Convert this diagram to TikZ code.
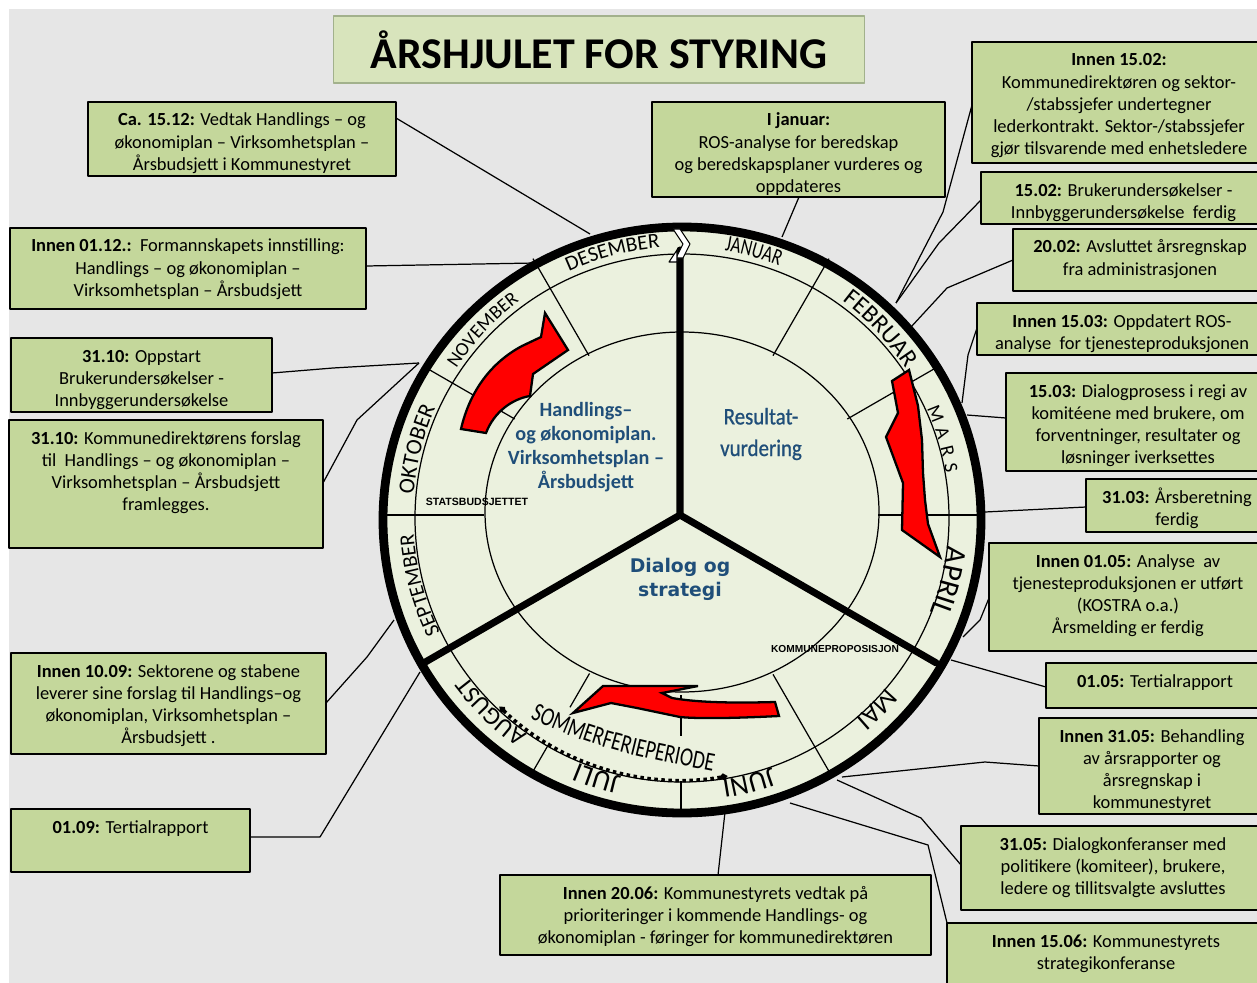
\documentclass[tikz,border=0pt]{standalone}
\usepackage{fontspec}
\setmainfont{Carlito}
\newfontfamily\narrowfont[FakeStretch=0.75]{Carlito}
\newfontfamily\resfont[FakeStretch=0.88,FakeBold=0.8]{Carlito}
\newfontfamily\dialogfont{DejaVu Sans}
\newfontfamily\heavyfont{Liberation Sans}
\usetikzlibrary{decorations.text,arrows.meta}
\definecolor{boxgreen}{HTML}{C4D79B}
\definecolor{titlegreen}{HTML}{D8E4BC}
\definecolor{titleline}{HTML}{A2B18C}
\definecolor{wheelfill}{HTML}{EBF1DE}
\definecolor{bggray}{HTML}{E6E6E6}
\definecolor{navy}{HTML}{1F4E79}
\newdimen\pxunit \pxunit=0.02cm
\newcommand\boxfont{\fontsize{10.5}{12.6}\selectfont}
\newcommand\boxtext[3]{\parbox[t][#2\pxunit][t]{#1\pxunit}{\centering\rule{0pt}{24\pxunit}#3}}
\newcommand\mthA{\fontsize{11}{13}\selectfont}
\newcommand\mthB{\fontsize{12}{14}\selectfont}
\newcommand\mthC{\fontsize{13}{15}\selectfont}
\newcommand\mthD{\fontsize{14}{16}\selectfont}
\newcommand\mthE{\fontsize{15}{17}\selectfont}
\newcommand\mthF{\fontsize{16}{18}\selectfont}
\newcommand\mthG{\fontsize{17}{19}\selectfont}
\newcommand\mthJan{\narrowfont\fontsize{13}{15}\selectfont}
\newcommand\mthSom{\narrowfont\fontsize{15}{17}\selectfont}
\tikzset{
  infobox/.style={draw=black, line width=1.1pt, fill=boxgreen, inner sep=0pt, outer sep=0pt, anchor=north west, font=\boxfont},
  titlebox/.style={draw=titleline, fill=titlegreen, line width=0.6pt, font=\bfseries\fontsize{25}{30}\selectfont},
  link/.style={line width=0.7pt},
  ring/.style={line width=0.7pt},
  spoke/.style={line width=4pt, line cap=round},
  redarrow/.style={fill=red, draw=black, line width=1.3pt, line join=miter},
  month/.style={decorate, decoration={text along path, text align=center, text={#1}}},
  monthfit/.style={decorate, decoration={text along path, text align={fit to path}, text={#1}}},
  dotline/.style={line width=2pt, dash pattern=on 2pt off 2pt}
}
\begin{document}
\begin{tikzpicture}[x=0.02cm, y=0.02cm, line join=round, >=stealth]
  \useasboundingbox (0,0) rectangle (1257,-983);
  \fill[bggray] (9,-9) rectangle (1257,-983);
  %% hjulet
  \fill[wheelfill] (682,-520) ellipse [x radius=299, y radius=293];
  \draw[ring] (682,-518) ellipse [x radius=267, y radius=264];
  \draw[ring] (682,-512) ellipse [x radius=197, y radius=180];
  \foreach \a/\r in {60/184,30/192,0/197,-60/184,180/197,150/192,120/184}
    \draw[ring, shift={(681,-515)}] (\a:\r) -- (\a:296);
  \draw[ring, shift={(681,-515)}] (-90:180) -- (-90:221) (-90:266) -- (-90:296);
  \draw[ring, shift={(681,-515)}] (-120:183) -- (-120:222) (-120:263) -- (-120:296);
  \draw[spoke] (680,-250) -- (680,-515) -- ++(210:296);
  \draw[spoke] (680,-515) -- ++(-30:296);
  \draw[line width=5pt] (682,-520) ellipse [x radius=299, y radius=293];
  \draw[fill=white, line width=0.6pt] (673,-229) -- (680,-229) -- (690,-244) -- (683,-258) -- (676,-258) -- (683,-244) -- cycle;
  \draw[fill=white, line width=0.6pt] (669,-262) -- (677,-250) -- (677,-262) -- cycle;
  %% maanedene
  \path[shift={(681,-515)}, month={|\mthB|DESEMBER}] (129.6:268) arc[start angle=129.6, end angle=79.6, radius=268];
  \path[shift={(681,-515)}, month={|\mthJan|JANUAR}] (99.6:268) arc[start angle=99.6, end angle=49.6, radius=268];
  \path[shift={(681,-515)}, month={|\mthD|FEBRUAR}] (68:268) arc[start angle=68, end angle=18, radius=268];
  \path[shift={(681,-515)}, monthfit={|\mthA|MARS}] (23.5:268) arc[start angle=23.5, end angle=9, radius=268];
  \path[shift={(681,-515)}, month={|\mthG|APRIL}] (11:268) arc[start angle=11, end angle=-39, radius=268];
  \path[shift={(681,-515)}, month={|\mthE|MAI}] (-19.7:268) arc[start angle=-19.7, end angle=-69.7, radius=268];
  \path[shift={(681,-515)}, month={|\mthF|JUNI}] (-50.7:268) arc[start angle=-50.7, end angle=-100.7, radius=268];
  \path[shift={(681,-515)}, month={|\mthF|JULI}] (-82.7:268) arc[start angle=-82.7, end angle=-132.7, radius=268];
  \path[shift={(681,-515)}, month={|\mthD|AUGUST}] (-109:268) arc[start angle=-109, end angle=-159, radius=268];
  \path[shift={(681,-515)}, month={|\mthB|SEPTEMBER}] (-140:268) arc[start angle=-140, end angle=-190, radius=268];
  \path[shift={(681,-515)}, month={|\mthC|OKTOBER}] (191:268) arc[start angle=191, end angle=141, radius=268];
  \path[shift={(681,-515)}, month={|\mthA|NOVEMBER}] (162:268) arc[start angle=162, end angle=112, radius=268];
  %% piler
  \draw[redarrow] (461,-429) .. controls (470,-390) and (492,-362) .. (522,-346) -- (541,-337) -- (545,-313) -- (568,-350) -- (533,-374) -- (530,-396) .. controls (512,-399) and (494,-412) .. (486,-433) -- cycle;
  \draw[redarrow] (892,-381) -- (898,-413) -- (886,-437) -- (903,-483) -- (902,-530) -- (940,-557) -- (928,-524) -- (925,-500) -- (923,-473) -- (922,-440) -- (918,-406) -- (909,-370) -- cycle;
  \draw[redarrow] (573,-713) -- (603,-686) -- (698,-686) -- (662,-693) -- (672,-698) .. controls (700,-703) and (740,-703) .. (775,-702) -- (779,-716) .. controls (740,-718) and (700,-719) .. (680,-717) -- (637,-708) -- (611,-703) -- cycle;
  %% tekst i hjulet
  \node[font=\bfseries\fontsize{11.5}{13.6}\selectfont, text=navy, align=center] (hop) at (586,-447) {Handlings–\\og økonomiplan.\\Virksomhetsplan –\\Årsbudsjett};
  \node[font=\resfont\fontsize{13.5}{18}\selectfont, text=navy, align=center] (res) at (761,-434) {Resultat-\\vurdering};
  \node[font=\dialogfont\bfseries\fontsize{10.7}{13.6}\selectfont, text=navy, align=center] (dia) at (680,-579) {Dialog og\\strategi};
  \node[font=\heavyfont\bfseries\fontsize{6}{7}\selectfont] (stat) at (477,-502) {STATSBUDSJETTET};
  \node[font=\heavyfont\bfseries\fontsize{5.8}{7}\selectfont] (kprop) at (835,-649) {KOMMUNEPROPOSISJON};
  \path[month={|\mthSom|SOMMERFERIEPERIODE}] (518,-713) to[out=-26, in=169] (726,-774);
  \draw[dotline, {Diamond[length=5pt,width=4pt]}-{Diamond[length=5pt,width=4pt]}] (682,-518) ++(226:263 and 262) arc[start angle=226, end angle=280, x radius=263, y radius=262];
  %% tittel
  \node[titlebox, minimum width=10.64cm, minimum height=1.34cm] (title) at (599,-49.5) {ÅRSHJULET FOR STYRING};
  %% bokser venstre
  \node[infobox] (dec15) at (88,-102) {\boxtext{308}{74}{\textbf{Ca. 15.12:} Vedtak Handlings – og\\økonomiplan – Virksomhetsplan –\\Årsbudsjett i Kommunestyret}};
  \node[infobox] (dec01) at (10,-228) {\boxtext{356}{81}{\textbf{Innen 01.12.:}\ \ Formannskapets innstilling:\\Handlings – og økonomiplan –\\Virksomhetsplan – Årsbudsjett}};
  \node[infobox] (okt31a) at (11,-338) {\boxtext{261}{74}{\textbf{31.10:} Oppstart\\Brukerundersøkelser -\\Innbyggerundersøkelse}};
  \node[infobox] (okt31b) at (9,-420) {\boxtext{314}{128}{\textbf{31.10:} Kommunedirektørens forslag\\til\ \ Handlings – og økonomiplan –\\Virksomhetsplan – Årsbudsjett\\framlegges.}};
  \node[infobox] (sep10) at (11,-653) {\boxtext{315}{101}{\textbf{Innen 10.09:} Sektorene og stabene\\leverer sine forslag til Handlings–og\\økonomiplan, Virksomhetsplan –\\Årsbudsjett .}};
  \node[infobox] (sep01) at (11,-809) {\boxtext{239}{63}{\textbf{01.09:} Tertialrapport}};
  %% bokser topp og hoyre
  \node[infobox] (jan) at (652,-102) {\boxtext{293}{95}{\textbf{I januar:}\\ROS-analyse for beredskap\\og beredskapsplaner vurderes og\\oppdateres}};
  \node[infobox] (feb15a) at (972,-42) {\boxtext{294}{121}{\textbf{Innen 15.02:}\\Kommunedirektøren og sektor-\\/stabssjefer undertegner\\lederkontrakt. Sektor-/stabssjefer\\gjør tilsvarende med enhetsledere}};
  \node[infobox] (feb15b) at (981,-172) {\boxtext{285}{52}{\textbf{15.02:} Brukerundersøkelser -\\Innbyggerundersøkelse\ \ ferdig}};
  \node[infobox] (feb20) at (1013,-229) {\boxtext{254}{62}{\textbf{20.02:} Avsluttet årsregnskap\\fra administrasjonen}};
  \node[infobox] (mar15a) at (977,-303) {\boxtext{290}{52}{\textbf{Innen 15.03:} Oppdatert ROS-\\analyse\ \ for tjenesteproduksjonen}};
  \node[infobox] (mar15b) at (1006,-373) {\boxtext{264}{98}{\textbf{15.03:} Dialogprosess i regi av\\komitéene med brukere, om\\forventninger, resultater og\\løsninger iverksettes}};
  \node[infobox] (mar31) at (1086,-479) {\boxtext{182}{53}{\textbf{31.03:} Årsberetning\\ferdig}};
  \node[infobox] (mai01a) at (989,-543) {\boxtext{278}{108}{\textbf{Innen 01.05:} Analyse\ \ av\\tjenesteproduksjonen er utført\\(KOSTRA o.a.)\\Årsmelding er ferdig}};
  \node[infobox] (mai01b) at (1046,-663) {\boxtext{218}{45}{\textbf{01.05:} Tertialrapport}};
  \node[infobox] (mai31a) at (1039,-718) {\boxtext{226}{96}{\textbf{Innen 31.05:} Behandling\\av årsrapporter og\\årsregnskap i\\kommunestyret}};
  \node[infobox] (mai31b) at (961,-826) {\boxtext{304}{84}{\textbf{31.05:} Dialogkonferanser med\\politikere (komiteer), brukere,\\ledere og tillitsvalgte avsluttes}};
  \node[infobox] (jun15) at (947,-923) {\boxtext{318}{80}{\textbf{Innen 15.06:} Kommunestyrets\\strategikonferanse}};
  \node[infobox] (jun20) at (500,-875) {\boxtext{431}{80}{\textbf{Innen 20.06:} Kommunestyrets vedtak på\\prioriteringer i kommende Handlings- og\\økonomiplan - føringer for kommunedirektøren}};
  %% endepunkt paa hjulet
  \coordinate (w-dec15) at (590,-234);
  \coordinate (w-dec01) at (535,-263);
  \coordinate (w-okt31) at (419,-363);
  \coordinate (w-sep10) at (394,-620);
  \coordinate (w-sep01) at (420,-672);
  \coordinate (w-jan) at (782,-237);
  \coordinate (w-feb15) at (896,-303);
  \coordinate (w-feb20) at (911,-327);
  \coordinate (w-mar15a) at (962,-403);
  \coordinate (w-mar15b) at (967,-415);
  \coordinate (w-mar31) at (985,-512);
  \coordinate (w-mai01a) at (963,-637);
  \coordinate (w-mai01b) at (951,-660);
  \coordinate (w-mai31a) at (842,-777);
  \coordinate (w-mai31b) at (837,-780);
  \coordinate (w-jun15) at (790,-803);
  \coordinate (w-jun20) at (725,-812);
  %% linjer
  \draw[link] (dec15.east |- 0,-118) -- (w-dec15);
  \draw[link] (dec01.east |- 0,-266) -- (w-dec01);
  \draw[link] (okt31a.east |- 0,-373) -- (333,-368) -- (w-okt31);
  \draw[link] (okt31b.east |- 0,-483) -- (357,-420) -- (w-okt31);
  \draw[link] (sep10.east |- 0,-703) -- (367,-657) -- (w-sep10);
  \draw[link] (sep01.east |- 0,-837) -- (320,-837) -- (w-sep01);
  \draw[link] (jan.south -| 799,0) -- (w-jan);
  \draw[link] (feb15a.west |- 0,-105) -- (943,-212) -- (w-feb15);
  \draw[link] (feb15b.west |- 0,-200) -- (939,-243) -- (w-feb15);
  \draw[link] (feb20.west |- 0,-260) -- (947,-288) -- (w-feb20);
  \draw[link] (mar15a.west |- 0,-328) -- (968,-355) -- (w-mar15a);
  \draw[link] (mar15b.west |- 0,-418) -- (w-mar15b);
  \draw[link] (mar31.west |- 0,-507) -- (w-mar31);
  \draw[link] (mai01a.west |- 0,-598) -- (980,-620) -- (w-mai01a);
  \draw[link] (mai01b.west |- 0,-687) -- (w-mai01b);
  \draw[link] (mai31a.west |- 0,-766) -- (985,-762) -- (w-mai31a);
  \draw[link] (mai31b.west |- 0,-865) -- (921,-818) -- (w-mai31b);
  \draw[link] (jun15.north west) -- (928,-845) -- (w-jun15);
  \draw[link] (jun20.north -| 718,0) -- (w-jun20);
\end{tikzpicture}
\end{document}
